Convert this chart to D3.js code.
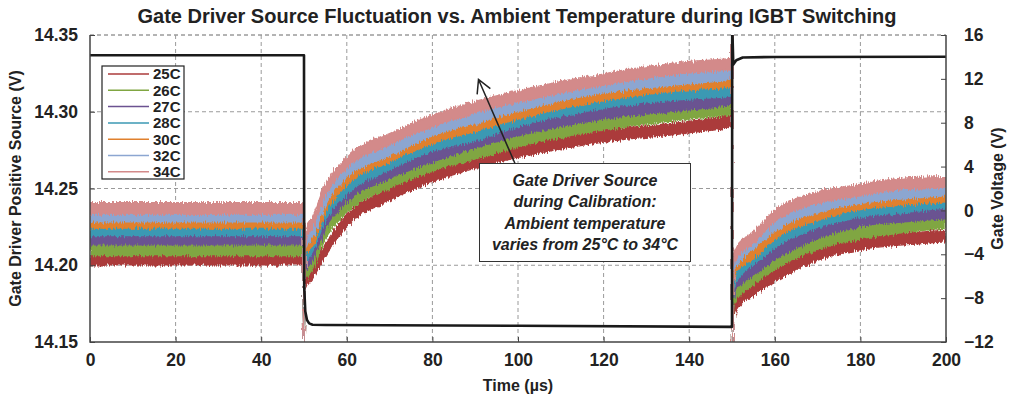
<!DOCTYPE html>
<html>
<head>
<meta charset="utf-8">
<script src="https://cdn.jsdelivr.net/npm/d3@7"></script>
<style>
    body { margin: 0; background: white; }
    text { font-family: "Liberation Sans", Arial, sans-serif; font-weight: bold; fill: #222; }
</style>
</head>
<body>
<svg id="chart"></svg>
<script>
//time axis (us) for the temperature traces
var times = [0, 49.7, 50, 50.3, 52, 55, 60, 70, 80, 90, 100, 120, 140, 149.7, 150, 150.1, 150.4, 151, 155, 160, 170, 180, 190, 200];

//gate driver source per ambient temperature (V), read at the times above
var labels = ['25C', '26C', '27C', '28C', '30C', '32C', '34C'];
var src25 = [14.204, 14.204, 14.15, 14.188, 14.195, 14.210, 14.229, 14.246, 14.258, 14.267, 14.274, 14.284, 14.290, 14.294, 14.36, 14.14, 14.170, 14.175, 14.184, 14.193, 14.207, 14.214, 14.217, 14.219];
var src26 = [14.210, 14.210, 14.15, 14.194, 14.201, 14.221, 14.238, 14.254, 14.265, 14.273, 14.281, 14.292, 14.299, 14.302, 14.36, 14.14, 14.176, 14.181, 14.191, 14.201, 14.214, 14.221, 14.225, 14.228];
var src27 = [14.217, 14.217, 14.15, 14.199, 14.207, 14.228, 14.245, 14.260, 14.271, 14.280, 14.288, 14.299, 14.305, 14.308, 14.36, 14.14, 14.182, 14.188, 14.197, 14.207, 14.221, 14.229, 14.232, 14.234];
var src28 = [14.223, 14.223, 14.15, 14.204, 14.212, 14.233, 14.250, 14.266, 14.278, 14.285, 14.294, 14.306, 14.312, 14.314, 14.36, 14.14, 14.188, 14.193, 14.204, 14.215, 14.228, 14.235, 14.238, 14.241];
var src30 = [14.228, 14.228, 14.15, 14.209, 14.217, 14.238, 14.256, 14.271, 14.283, 14.291, 14.299, 14.311, 14.318, 14.320, 14.36, 14.14, 14.193, 14.199, 14.208, 14.221, 14.233, 14.240, 14.243, 14.245];
var src32 = [14.232, 14.232, 14.15, 14.214, 14.222, 14.243, 14.261, 14.275, 14.288, 14.296, 14.304, 14.316, 14.322, 14.325, 14.36, 14.14, 14.198, 14.203, 14.214, 14.226, 14.238, 14.244, 14.247, 14.249];
var src34 = [14.237, 14.237, 14.15, 14.220, 14.228, 14.249, 14.267, 14.282, 14.294, 14.303, 14.310, 14.321, 14.329, 14.331, 14.36, 14.14, 14.203, 14.208, 14.218, 14.232, 14.244, 14.249, 14.253, 14.254];
var colors = ['#ab3b3b', '#80a642', '#6b5291', '#3b99b3', '#e0802d', '#8ca6d1', '#d38a8a'];

//gate voltage (V), right axis
var gateTime = [0, 50, 50.05, 50.3, 50.7, 51.2, 52, 55, 100, 149.9, 150, 150.05, 150.3, 151, 152.5, 160, 200];
var gateVolt = [14.15, 14.15, -7, -9.2, -10.0, -10.3, -10.42, -10.45, -10.52, -10.62, -10.62, 17, 13.3, 13.7, 13.95, 14.0, 14.02];

//axis ticks
var timeTicks = [0, 20, 40, 60, 80, 100, 120, 140, 160, 180, 200];
var srcTicks = [14.15, 14.20, 14.25, 14.30, 14.35];
var gateTicks = [-12, -8, -4, 0, 4, 8, 12, 16];

var noteLines = ['Gate Driver Source', 'during Calibration:', 'Ambient temperature', 'varies from 25°C to 34°C'];

var W = 1012, H = 401;
var m = {left: 90, right: 66, top: 35, bottom: 59};
var w = W - m.left - m.right;
var h = H - m.top - m.bottom;

var svg = d3.select('#chart')
    .attr('width', W)
    .attr('height', H);

var x = d3.scaleLinear().domain([0, 200]).range([0, w]);
var yL = d3.scaleLinear().domain([14.15, 14.35]).range([h, 0]);
var yR = d3.scaleLinear().domain([-12, 16]).range([h, 0]);

var defs = svg.append('defs');
defs.append('clipPath')
    .attr('id', 'plotClip')
    .append('rect')
    .attr('width', w)
    .attr('height', h);

//jagged edges so the bands read like scope noise
var jag = defs.append('filter')
    .attr('id', 'jag')
    .attr('x', '-2%').attr('y', '-10%')
    .attr('width', '104%').attr('height', '120%');
jag.append('feTurbulence')
    .attr('type', 'fractalNoise')
    .attr('baseFrequency', '0.9 0.08')
    .attr('numOctaves', 2)
    .attr('seed', 4)
    .attr('result', 'turb');
jag.append('feDisplacementMap')
    .attr('in', 'SourceGraphic')
    .attr('in2', 'turb')
    .attr('scale', 7)
    .attr('xChannelSelector', 'R')
    .attr('yChannelSelector', 'G');

var g = svg.append('g')
    .attr('transform', 'translate(' + m.left + ',' + m.top + ')');

//title
svg.append('text')
    .attr('x', 517)
    .attr('y', 23)
    .attr('text-anchor', 'middle')
    .attr('font-size', '20px')
    .text('Gate Driver Source Fluctuation vs. Ambient Temperature during IGBT Switching');

//grid
g.append('g')
    .selectAll('line')
    .data(timeTicks.slice(1, -1))
    .join('line')
    .attr('x1', function(d) {return x(d);})
    .attr('x2', function(d) {return x(d);})
    .attr('y1', 0)
    .attr('y2', h)
    .attr('stroke', '#9a9a9a')
    .attr('stroke-dasharray', '4,3');
g.append('g')
    .selectAll('line')
    .data(srcTicks.slice(1))
    .join('line')
    .attr('x1', 0)
    .attr('x2', w)
    .attr('y1', function(d) {return yL(d);})
    .attr('y2', function(d) {return yL(d);})
    .attr('stroke', '#9a9a9a')
    .attr('stroke-dasharray', '4,3');

//temperature traces as noise bands
var series = [src25, src26, src27, src28, src30, src32, src34];
var half = 0.0037;
var band = d3.area()
    .x(function(d, i) {return x(times[i]);})
    .y0(function(d) {return yL(d - half);})
    .y1(function(d) {return yL(d + half);})
    .curve(d3.curveMonotoneX);

var traces = g.append('g')
    .attr('clip-path', 'url(#plotClip)')
    .append('g')
    .attr('filter', 'url(#jag)');
traces.selectAll('path')
    .data(series)
    .join('path')
    .attr('d', band)
    .attr('fill', function(d, i) {return colors[i];})
    .attr('stroke', function(d, i) {return colors[i];})
    .attr('stroke-width', 1.4);

//gate voltage
var gateLine = d3.line()
    .x(function(d) {return x(d[0]);})
    .y(function(d) {return yR(d[1]);});
g.append('g')
    .attr('clip-path', 'url(#plotClip)')
    .append('path')
    .datum(d3.zip(gateTime, gateVolt))
    .attr('d', gateLine)
    .attr('fill', 'none')
    .attr('stroke', '#1a1a1a')
    .attr('stroke-width', 2.6)
    .attr('stroke-linejoin', 'round');

//frame: top edge is a dashed grid line, the rest solid
g.append('line')
    .attr('x1', 0).attr('x2', w)
    .attr('y1', 0).attr('y2', 0)
    .attr('stroke', '#9a9a9a')
    .attr('stroke-dasharray', '4,3');
g.append('path')
    .attr('d', 'M0,0V' + h + 'H' + w + 'V0')
    .attr('fill', 'none')
    .attr('stroke', '#444')
    .attr('stroke-width', 1.5);

//axes
var axL = g.append('g')
    .call(d3.axisLeft(yL).tickValues(srcTicks).tickFormat(d3.format('.2f')).tickSize(-5).tickPadding(12));
var axR = g.append('g')
    .attr('transform', 'translate(' + w + ',0)')
    .call(d3.axisRight(yR).tickValues(gateTicks).tickSize(-5).tickPadding(18));
var axB = g.append('g')
    .attr('transform', 'translate(0,' + h + ')')
    .call(d3.axisBottom(x).tickValues(timeTicks).tickSize(-5).tickPadding(12));
[axL, axR, axB].forEach(function(ax) {
    ax.select('.domain').remove();
    ax.selectAll('line').attr('stroke', '#444');
    ax.selectAll('text')
        .attr('font-size', '17.5px')
        .attr('font-family', null)
        .attr('fill', '#222');
});

//axis titles
svg.append('text')
    .attr('transform', 'translate(21,' + (m.top + h / 2) + ') rotate(-90)')
    .attr('text-anchor', 'middle')
    .attr('font-size', '16px')
    .text('Gate Driver Positive Source (V)');
svg.append('text')
    .attr('transform', 'translate(1003,' + (m.top + h / 2) + ') rotate(-90)')
    .attr('text-anchor', 'middle')
    .attr('font-size', '16px')
    .text('Gate Voltage (V)');
svg.append('text')
    .attr('x', m.left + w / 2)
    .attr('y', 391)
    .attr('text-anchor', 'middle')
    .attr('font-size', '16px')
    .text('Time (µs)');

//legend
var leg = g.append('g')
    .attr('transform', 'translate(12,31)');
leg.append('rect')
    .attr('width', 82)
    .attr('height', 113)
    .attr('fill', 'white')
    .attr('stroke', '#222')
    .attr('stroke-width', 1.2);
var rows = leg.selectAll('g.row')
    .data(labels)
    .join('g')
    .attr('class', 'row')
    .attr('transform', function(d, i) {return 'translate(0,' + (8 + i * 16.3) + ')';});
rows.append('line')
    .attr('x1', 6).attr('x2', 47)
    .attr('stroke', function(d, i) {return colors[i];})
    .attr('stroke-width', 1.5);
rows.append('text')
    .attr('x', 51)
    .attr('dy', '0.36em')
    .attr('font-size', '15px')
    .text(function(d) {return d;});

//annotation box and arrow
var note = svg.append('g');
note.append('rect')
    .attr('x', 479.5).attr('y', 163.5)
    .attr('width', 211).attr('height', 98)
    .attr('fill', 'white')
    .attr('stroke', '#333');
note.selectAll('text')
    .data(noteLines)
    .join('text')
    .attr('x', 585)
    .attr('y', function(d, i) {return 186 + i * 21.3;})
    .attr('text-anchor', 'middle')
    .attr('font-style', 'italic')
    .attr('font-size', '16px')
    .text(function(d) {return d;});

var tail = [515, 163.5], tip = [478.5, 79.5];
var ang = Math.atan2(tail[1] - tip[1], tail[0] - tip[0]);
var wing = function(a) {return [tip[0] + 15 * Math.cos(ang + a), tip[1] + 15 * Math.sin(ang + a)];};
note.append('path')
    .attr('d', d3.line()([tail, tip]) + d3.line()([wing(0.5), tip, wing(-0.5)]))
    .attr('fill', 'none')
    .attr('stroke', '#222')
    .attr('stroke-width', 1.5);
</script>
</body>
</html>
